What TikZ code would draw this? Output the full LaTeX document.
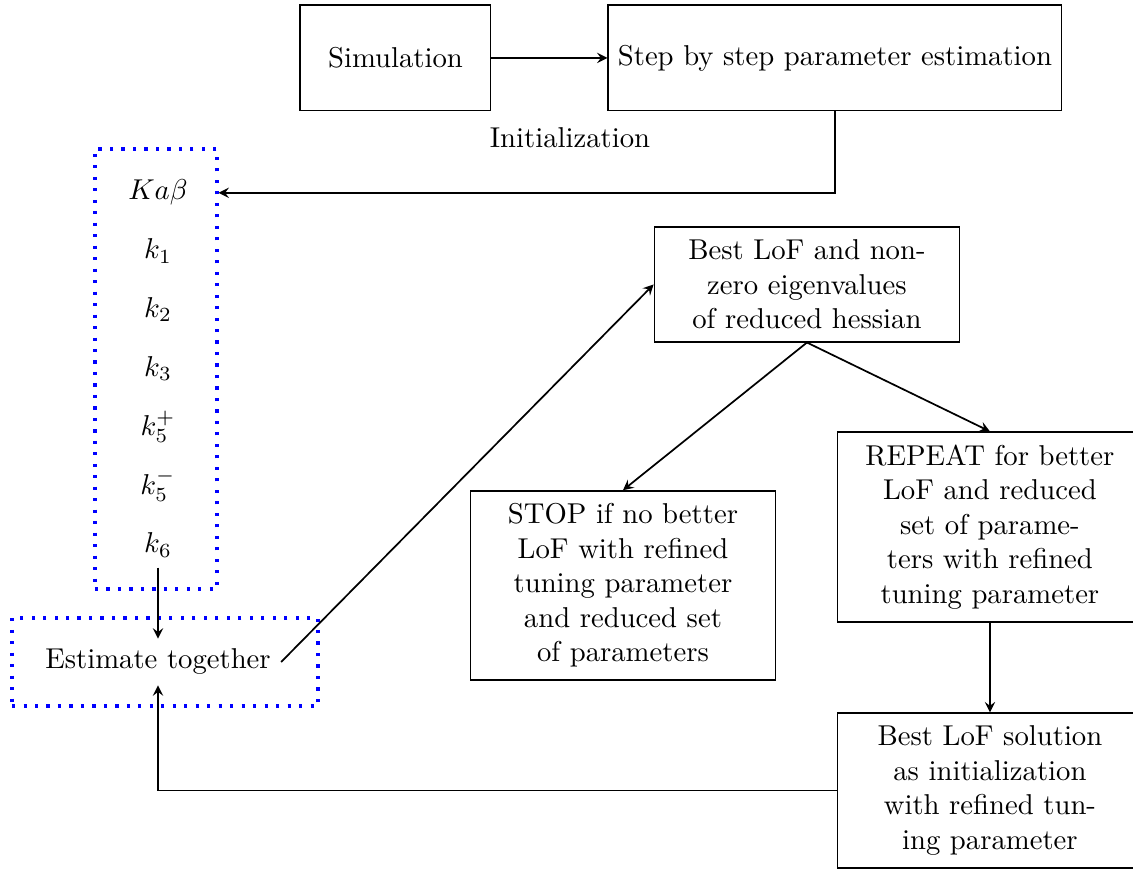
\documentclass[tikz,border=0pt]{standalone}
\usepackage{amsmath}
\usepackage{tikz}
\usetikzlibrary{arrows,positioning}

\begin{document}
\begin{tikzpicture}[->, >=stealth, semithick]
\useasboundingbox (0,0) rectangle (13.875,-10.642);
\tikzstyle{box} = [rectangle, draw=black, text width=3.5cm, align=center, inner ysep=4.4pt]
\tikzstyle{topbox} = [rectangle, draw=black, minimum height=1.29cm]
\tikzstyle{group} = [rectangle, draw=blue, line width=1.1pt, dash pattern=on 1.1pt off 2.9pt]
\node[topbox, minimum width=2.33cm] (sim) at (4.843,-0.710) {Simulation};
\node[topbox] (step) at (10.225,-0.710) {Step by step parameter estimation};
\node (init) at (6.98,-1.69) {Initialization};
% parameters, one under the other
\node[group, minimum width=1.494cm, minimum height=5.388cm] (params) at (1.910,-4.519) {};
\foreach \lab [count=\i] in {Ka\beta, k_1, k_2, k_3, k_5^+, k_5^-, k_6}
  \node[anchor=base] (p\i) at (1.935,{-2.449-0.7205*(\i-1)}) {$\lab$};
\node[group, minimum width=3.747cm, minimum height=1.078cm] (estbox) at (2.021,-8.107) {};
\node (est) at (1.935,-8.107) {Estimate together};
% refinement loop
\node[box] (best) at (9.882,-3.484) {Best LoF and non-zero eigenvalues of reduced hessian};
\node[box] (stop) at (7.629,-7.170) {STOP if no better LoF with refined tuning parameter and reduced set of parameters};
\node[box] (rep) at (12.123,-6.454) {REPEAT for better LoF and reduced set of parameters with refined tuning parameter};
\node[box] (sol) at (12.123,-9.680) {Best LoF solution as initialization with refined tuning parameter};
\draw (sim) -- (step);
\draw (step.south) |- (p1 -| params.east);
\draw (p7) -- (est);
\draw (est.east) -- (best.west);
\draw (best.south) -- (stop.north);
\draw (best.south) -- (rep.north);
\draw (rep) -- (sol);
\draw (sol.west) -| (est.south);
\end{tikzpicture}
\end{document}
